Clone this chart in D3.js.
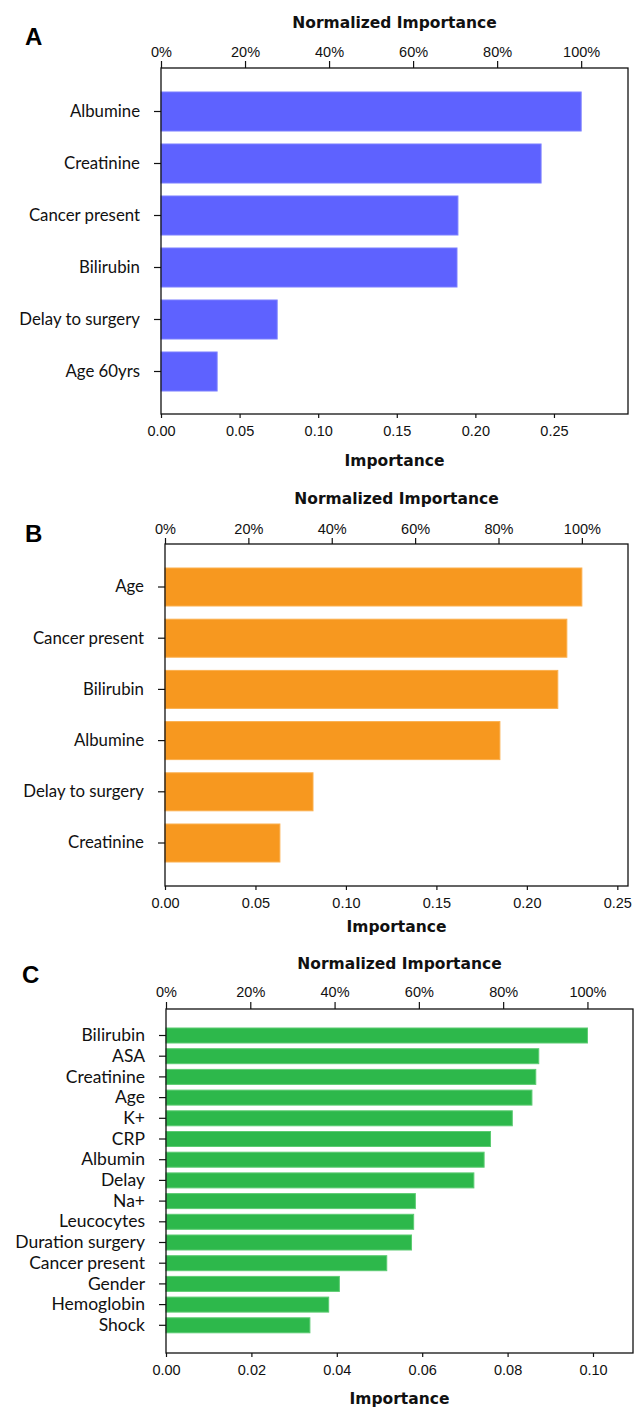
<!DOCTYPE html>
<html>
<head>
<meta charset="utf-8">
<script src="https://cdn.jsdelivr.net/npm/d3@7"></script>
<style>
	body { margin: 0; background: #fff; }
	svg { display: block; }
	.tick text { font-family: "Liberation Sans", Arial, sans-serif; font-size: 14.5px; fill: #111; }
	.cat .tick text { font-family: Lato, "Open Sans", sans-serif; font-size: 16px; }
	.axis-title { font-family: "DejaVu Sans", sans-serif; font-weight: bold; font-size: 15.5px; fill: #111; }
	.panel-letter { font-family: "Liberation Sans", Arial, sans-serif; font-weight: bold; font-size: 24px; fill: #000; }
</style>
</head>
<body>
<script>
	"use strict";

	// panel A
	var labelsA = ["Albumine", "Creatinine", "Cancer present", "Bilirubin", "Delay to surgery", "Age 60yrs"];
	var valuesA = [0.2673, 0.2418, 0.1889, 0.1883, 0.0739, 0.0357];
	var ticksA = [0, 0.05, 0.10, 0.15, 0.20, 0.25];

	// panel B
	var labelsB = ["Age", "Cancer present", "Bilirubin", "Albumine", "Delay to surgery", "Creatinine"];
	var valuesB = [0.2304, 0.2221, 0.2171, 0.1851, 0.0818, 0.0635];
	var ticksB = [0, 0.05, 0.10, 0.15, 0.20, 0.25];

	// panel C
	var labelsC = ["Bilirubin", "ASA", "Creatinine", "Age", "K+", "CRP", "Albumin", "Delay", "Na+",
		"Leucocytes", "Duration surgery", "Cancer present", "Gender", "Hemoglobin", "Shock"];
	var valuesC = [0.0987, 0.0873, 0.0866, 0.0857, 0.0811, 0.0760, 0.0745, 0.0721, 0.0584,
		0.0580, 0.0575, 0.0517, 0.0406, 0.0381, 0.0337];
	var ticksC = [0, 0.02, 0.04, 0.06, 0.08, 0.10];

	var pctTicks = [0, 20, 40, 60, 80, 100];

	var width = 635, height = 1410;

	var svg = d3.select("body").append("svg")
		.attr("width", width)
		.attr("height", height);

	/////////////////////////////////////////////////
	// one panel = box + top % axis + bottom axis + bars
	function drawPanel(cfg){
		var g = svg.append("g");

		var x = d3.scaleLinear().domain([0, cfg.xMax]).range([cfg.left, cfg.right]);
		var maxVal = d3.max(cfg.values);
		// normalized axis: 100% sits on the largest bar
		var xPct = d3.scaleLinear().domain([0, 100]).range([x(0), x(maxVal)]);

		var pad = 1 - cfg.barH / cfg.step;
		var r0 = cfg.firstBar - (pad / 2) * cfg.step;
		var y = d3.scaleBand()
			.domain(cfg.labels)
			.range([r0, r0 + cfg.labels.length * cfg.step])
			.paddingInner(pad)
			.paddingOuter(pad / 2);

		// bars
		g.selectAll(".bar").data(cfg.labels).enter().append("rect")
			.attr("class", "bar")
			.attr("x", x(0))
			.attr("y", function(d){ return y(d); })
			.attr("width", function(d, i){ return x(cfg.values[i]) - x(0); })
			.attr("height", y.bandwidth())
			.attr("fill", cfg.color)
			.attr("stroke", cfg.edge)
			.attr("stroke-width", 1);

		// frame
		g.append("rect")
			.attr("x", cfg.left).attr("y", cfg.top)
			.attr("width", cfg.right - cfg.left)
			.attr("height", cfg.bottom - cfg.top)
			.attr("fill", "none")
			.attr("stroke", "#111")
			.attr("stroke-width", 1.3);

		// top axis (normalized)
		var top = g.append("g")
			.attr("transform", "translate(0," + cfg.top + ")")
			.call(d3.axisTop(xPct).tickValues(pctTicks)
				.tickFormat(function(d){ return d + "%"; })
				.tickSize(cfg.topTick).tickPadding(cfg.topPad).tickSizeOuter(0));
		top.select(".domain").remove();

		// bottom axis
		var bot = g.append("g")
			.attr("transform", "translate(0," + cfg.bottom + ")")
			.call(d3.axisBottom(x).tickValues(cfg.ticks)
				.tickFormat(d3.format(".2f"))
				.tickSize(4).tickPadding(8).tickSizeOuter(0));
		bot.select(".domain").remove();

		// category axis
		var left = g.append("g").attr("class", "cat")
			.attr("transform", "translate(" + cfg.left + ",0)")
			.call(d3.axisLeft(y).tickSize(7).tickPadding(14).tickSizeOuter(0));
		left.select(".domain").remove();
		left.selectAll(".tick text").style("font-size", cfg.catSize + "px");

		g.selectAll(".tick line").attr("stroke", "#111").attr("stroke-width", 1.2);

		// titles
		var cx = (cfg.left + cfg.right) / 2;
		g.append("text").attr("class", "axis-title")
			.attr("x", cx).attr("y", cfg.top - 40)
			.attr("text-anchor", "middle")
			.text("Normalized Importance");
		g.append("text").attr("class", "axis-title")
			.attr("x", cx).attr("y", cfg.bottom + cfg.botTitle)
			.attr("text-anchor", "middle")
			.text("Importance");

		g.append("text").attr("class", "panel-letter")
			.attr("x", cfg.letterX).attr("y", cfg.letterY)
			.text(cfg.letter);
	}

	drawPanel({
		letter: "A", letterX: 25, letterY: 45,
		labels: labelsA, values: valuesA, ticks: ticksA,
		left: 161, right: 628, top: 68, bottom: 414, xMax: 0.2971,
		firstBar: 92, step: 52, barH: 39,
		topTick: 7, topPad: 4, botTitle: 52, catSize: 16.8,
		color: "#5e62ff", edge: "#7b7fff"
	});

	drawPanel({
		letter: "B", letterX: 25, letterY: 542,
		labels: labelsB, values: valuesB, ticks: ticksB,
		left: 165, right: 628, top: 544, bottom: 886, xMax: 0.2559,
		firstBar: 568, step: 51.2, barH: 38,
		topTick: 6, topPad: 4, botTitle: 46, catSize: 16.8,
		color: "#f7981f", edge: "#fbb04e"
	});

	drawPanel({
		letter: "C", letterX: 22, letterY: 983,
		labels: labelsC, values: valuesC, ticks: ticksC,
		left: 166, right: 633, top: 1009, bottom: 1353, xMax: 0.10937,
		firstBar: 1028, step: 20.7, barH: 15,
		topTick: 7, topPad: 5, botTitle: 51, catSize: 17.5,
		color: "#2db84b", edge: "#5ccb72"
	});
</script>
</body>
</html>
